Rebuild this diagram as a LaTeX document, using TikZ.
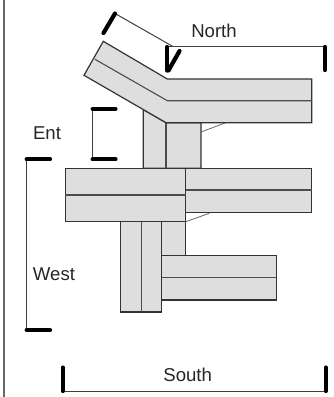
\documentclass[tikz,border=0pt]{standalone}
\usepackage{fontspec}
\setmainfont{Liberation Sans}
\tikzstyle{road}=[draw=black!80,fill=black!13,line width=1.2pt,line join=miter]
\tikzstyle{laneLine}=[draw=black!70,line width=1.1pt]
\tikzstyle{stubLine}=[draw=black!60,line width=0.8pt]
\tikzstyle{dimLine}=[draw=black!75,line width=1pt]
\tikzstyle{endBar}=[draw=black,line width=4.2pt,line cap=round]
\tikzstyle{dimLabel}=[font=\fontsize{18.6}{20}\selectfont,inner sep=0pt,text=black!85]

\begin{document}
\begin{tikzpicture}[x=1pt,y=-1pt]
        \useasboundingbox (0,0) rectangle (333,397);
        \draw [draw=black!60,line width=1.3pt] (4,0) -- (4,397);

        % upper stem
        \draw [road] (143.3,109.6) -- (143.3,168.3) -- (201,168.3) -- (201,122.7) -- (166,122.7) -- cycle;
        \draw [laneLine] (166,122.7) -- (166,168.3);
        \coordinate (stubA) at (201,132);
        \coordinate (stubB) at (225,123);
        \draw [stubLine] (stubA) -- (stubB);

        % bent road
        \draw [road] (103.3,41.3) -- (167.3,79) -- (311.7,79) -- (311.7,122.7) -- (166,122.7) -- (84,75.3) -- cycle;
        \draw [laneLine] (95,59.3) -- (167.3,100.7) -- (311.7,100.7);

        % lower stems
        \draw [road] (161.7,221.7) -- (185.7,221.7) -- (185.7,255.3) -- (161.7,255.3) -- cycle;
        \draw [road] (120.7,221.7) -- (161.7,221.7) -- (161.7,312) -- (120.7,312) -- cycle;
        \draw [laneLine] (141.3,221.7) -- (141.3,312);

        % middle roads
        \draw [road] (185.7,168.3) -- (311.7,168.3) -- (311.7,212.3) -- (185.7,212.3) -- cycle;
        \draw [laneLine] (185.7,190) -- (311.7,190);
        \draw [road] (65.3,168.3) -- (185.7,168.3) -- (185.7,221.7) -- (65.3,221.7) -- cycle;
        \draw [laneLine] (65.3,195) -- (185.7,195);
        \coordinate (stubC) at (185.7,221.7);
        \coordinate (stubD) at (209.3,213.3);
        \draw [stubLine] (stubC) -- (stubD);

        % lower road
        \draw [road] (161.7,255.3) -- (276.7,255.3) -- (276.7,300) -- (161.7,300) -- cycle;
        \draw [laneLine] (161.7,277.7) -- (276.7,277.7);

        % north
        \coordinate (n1) at (115,13.5);
        \coordinate (n2) at (103.5,33);
        \coordinate (n3) at (179.5,51);
        \coordinate (n4) at (168.5,70.5);
        \coordinate (n5) at (167.3,47);
        \coordinate (n6) at (325,47);
        \coordinate (n7) at (325,70);
        \draw [dimLine] (n1) -- (173.3,46.7);
        \draw [dimLine] (167.3,46.7) -- (325,46.7);
        \draw [endBar] (n1) -- (n2);
        \draw [endBar] (n3) -- (n4);
        \draw [endBar] (n5) -- (167.3,70.5);
        \draw [endBar] (n6) -- (n7);
        \node[dimLabel] (northLabel) at (214,31) {North};

        % ent
        \coordinate (e1) at (92.7,109);
        \coordinate (e2) at (92.7,159.3);
        \draw [dimLine] (e1) -- (e2);
        \draw [endBar] (e1) -- (115.5,109);
        \draw [endBar] (e2) -- (115.5,159.3);
        \node[dimLabel] (entLabel) at (47,133) {Ent};

        % west
        \coordinate (w1) at (26.7,159.3);
        \coordinate (w2) at (26.7,330);
        \draw [dimLine] (w1) -- (w2);
        \draw [endBar] (w1) -- (50,159.3);
        \draw [endBar] (w2) -- (50,330);
        \node[dimLabel] (westLabel) at (54,274) {West};

        % south
        \coordinate (s1) at (62.7,391);
        \coordinate (s2) at (325.7,391);
        \draw [dimLine] (s1) -- (s2);
        \draw [endBar] (62.7,367.5) -- (s1);
        \draw [endBar] (325.7,367.5) -- (s2);
        \node[dimLabel] (southLabel) at (187.7,375) {South};
\end{tikzpicture}
\end{document}
